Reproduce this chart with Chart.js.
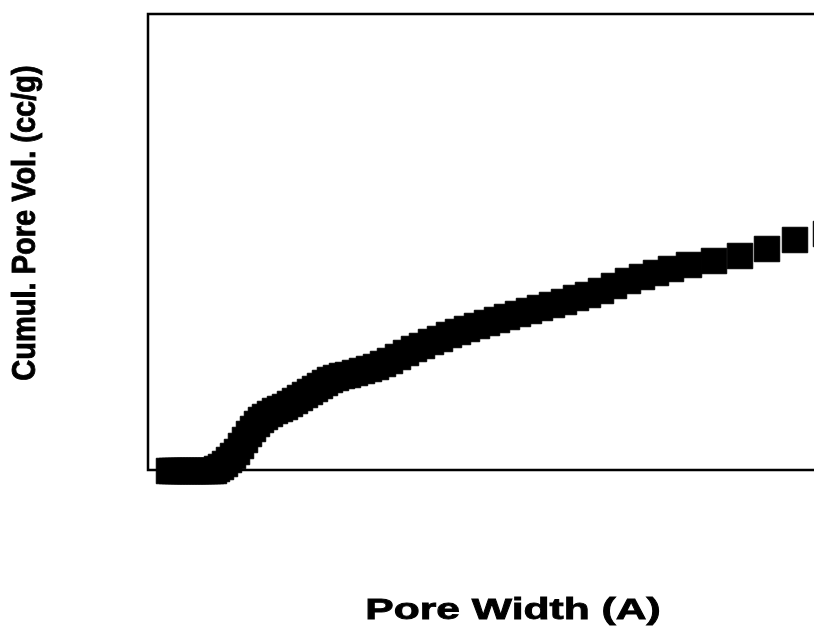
<!DOCTYPE html>
<html>
<head>
<meta charset="utf-8">
<script src="https://cdn.jsdelivr.net/npm/chart.js@4/dist/chart.umd.min.js"></script>
<style>
    html, body { margin: 0; padding: 0; background: #fff; overflow: hidden; }
    #wrap { width: 814px; height: 635px; overflow: hidden; }
</style>
</head>
<body>
<div id="wrap"><canvas id="poreChart" width="880" height="635"></canvas></div>
<script>
// Pore width (A) and cumulative pore volume (cc/g)
const poreWidth = [
    10.5, 12, 13.5, 15, 16.5, 18, 19.5, 21, 22.5, 24, 25.5, 27, 28.5, 30, 31.5, 33,
    34.5, 36.5, 38.5, 40.5, 42.5, 44.5, 46.5, 48.5, 50.5, 52.5, 54.5, 56.5, 58.5,
    61, 63.5, 66, 68.5, 71, 73.5, 76, 78.5, 81, 83.5, 86, 88.5, 91, 94, 97, 100,
    103.5, 107, 110.5, 114, 117.5, 121, 125, 129, 133, 137, 141.5, 146, 150.5, 155,
    159.5, 164.5, 169.5, 174.5, 179.5, 185, 190.5, 196, 202, 208, 214, 220, 226.5,
    233, 240, 247, 254, 261.5, 270.5, 283, 296, 309.5, 323.5, 339
];
const cumulVolume = [
    -0.001, -0.001, -0.001, -0.001, -0.001, -0.001, -0.001, -0.001, -0.001, -0.001, -0.001, -0.001, -0.001, -0.001, -0.001, -0.001,
    0.001, 0.003, 0.006, 0.010, 0.014, 0.018, 0.024, 0.030, 0.036, 0.041, 0.046, 0.050, 0.053,
    0.056, 0.059, 0.061, 0.063, 0.066, 0.069, 0.072, 0.075, 0.078, 0.081, 0.084, 0.087, 0.090, 0.092, 0.094, 0.095,
    0.097, 0.099, 0.101, 0.103, 0.106, 0.109, 0.113, 0.117, 0.121, 0.124, 0.128, 0.131, 0.135, 0.138,
    0.141, 0.144, 0.147, 0.150, 0.153, 0.156, 0.159, 0.162, 0.165, 0.168, 0.172, 0.175, 0.179,
    0.184, 0.189, 0.193, 0.197, 0.201, 0.205, 0.209, 0.214, 0.221, 0.230, 0.236
];

const X_TITLE = 'Pore Width (A)';
const Y_TITLE = 'Cumul. Pore Vol. (cc/g)';

// Frame (left, top, bottom) and the axis titles
const framePlugin = {
    id: 'frame',
    beforeDatasetsDraw(chart) {
        const { ctx, chartArea: a } = chart;
        ctx.save();
        ctx.strokeStyle = '#000';
        ctx.lineWidth = 2.5;
        ctx.strokeRect(a.left, a.top, a.right - a.left, a.bottom - a.top);
        ctx.restore();
    },
    afterDraw(chart) {
        const ctx = chart.ctx;
        ctx.save();
        ctx.fillStyle = '#000';
        ctx.strokeStyle = '#000';
        ctx.lineWidth = 0.8;
        ctx.textAlign = 'center';

        // x title looks stretched sideways in the source
        ctx.save();
        ctx.font = "bold 30px 'Liberation Sans', Arial, sans-serif";
        ctx.translate(513, 619);
        ctx.scale(1.42, 1);
        ctx.textBaseline = 'alphabetic';
        ctx.fillText(X_TITLE, 0, 0);
        ctx.strokeText(X_TITLE, 0, 0);
        ctx.restore();

        ctx.save();
        ctx.font = "bold 29px 'Liberation Sans', Arial, sans-serif";
        ctx.translate(26, 223);
        ctx.scale(1.12, 1);
        ctx.rotate(-Math.PI / 2);
        ctx.textBaseline = 'middle';
        ctx.fillText(Y_TITLE, 0, 0);
        ctx.strokeText(Y_TITLE, 0, 0);
        ctx.restore();

        ctx.restore();
    }
};

new Chart(document.getElementById('poreChart'), {
    type: 'scatter',
    data: {
        datasets: [{
            data: poreWidth.map((x, i) => ({ x: x, y: cumulVolume[i] })),
            pointStyle: 'rect',
            pointRadius: 18,
            pointHoverRadius: 18,
            backgroundColor: '#000',
            borderColor: '#000',
            borderWidth: 1,
            clip: false,
        }]
    },
    options: {
        responsive: false,
        animation: false,
        devicePixelRatio: 1,
        layout: { autoPadding: false, padding: { left: 148, top: 14, right: 2, bottom: 165 } },
        scales: {
            x: { type: 'linear', min: 0, max: 365, display: false },
            y: { type: 'linear', min: 0, max: 0.456, display: false },
        },
        plugins: {
            legend: { display: false },
            tooltip: { enabled: false },
        },
    },
    plugins: [framePlugin],
});
</script>
</body>
</html>
